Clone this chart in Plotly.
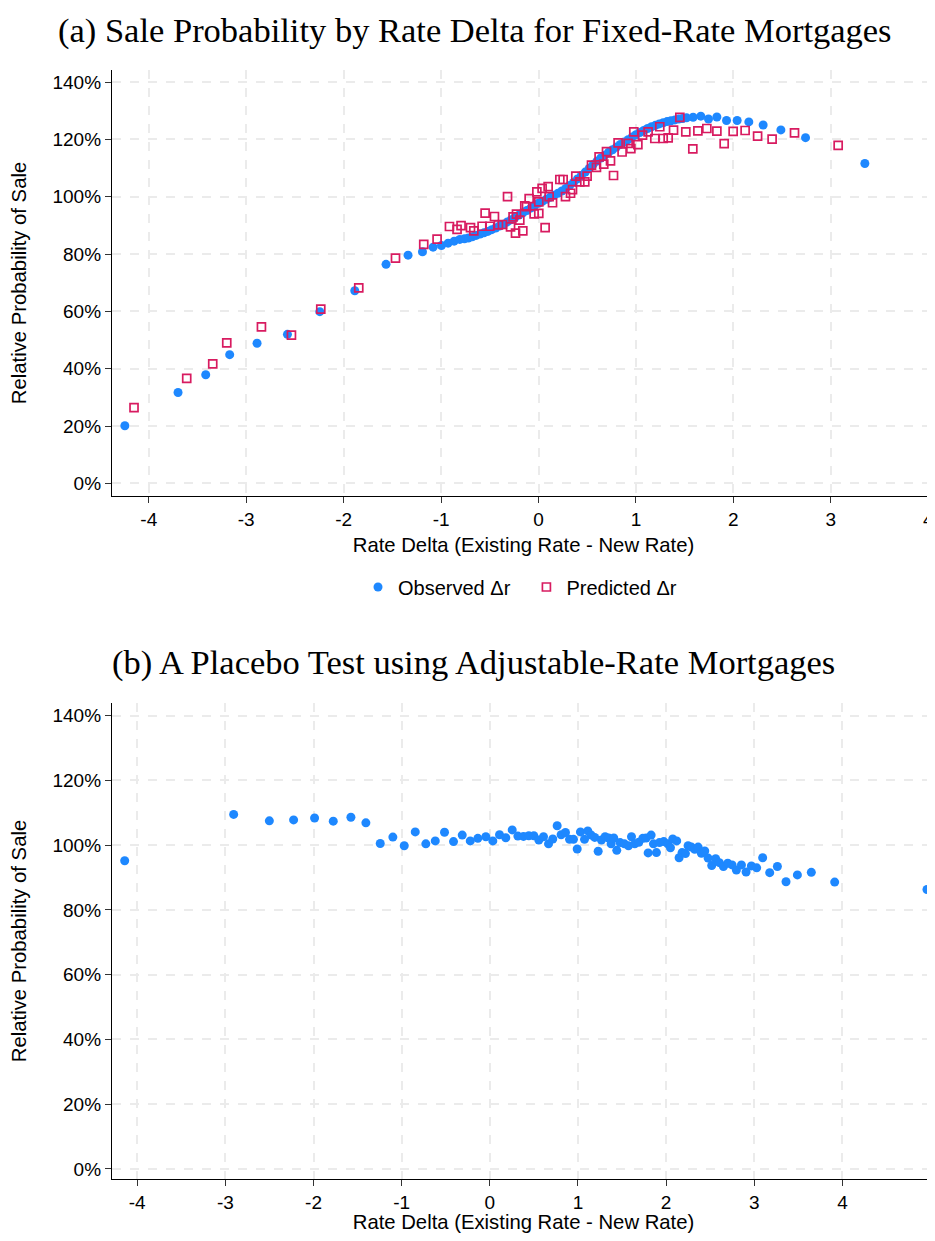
import plotly.graph_objects as go

# ---------------- Panel (a): fixed-rate mortgages ----------------
obs_x = [-4.246, -3.70, -3.416, -3.17, -2.889, -2.577, -2.245, -1.886, -1.565, -1.339,
         -1.191, -1.082, -0.996, -0.928, -0.866, -0.808,
         -0.76, -0.72, -0.68, -0.64, -0.60, -0.56, -0.52, -0.48, -0.44, -0.40,
         -0.36, -0.32, -0.28, -0.24, -0.20, -0.16, -0.12, -0.08, -0.04, 0.00,
         0.04, 0.08, 0.12, 0.16, 0.20, 0.24, 0.28, 0.32, 0.36, 0.40,
         0.44, 0.48, 0.52, 0.56, 0.60, 0.64, 0.68, 0.72, 0.76, 0.80,
         0.84, 0.88, 0.92, 0.96, 1.00, 1.04, 1.08, 1.12, 1.16, 1.20,
         1.24, 1.28, 1.32, 1.36, 1.40, 1.44, 1.48, 1.52,
         1.587, 1.666, 1.745, 1.831, 1.930, 2.039, 2.159, 2.306, 2.488, 2.741, 3.350]
obs_y = [20.1, 31.7, 37.9, 44.9, 48.9, 52.0, 59.9, 67.2, 76.4, 79.6,
         80.8, 82.4, 83.0, 83.8, 84.5, 85.1,
         85.3, 85.6, 86.0, 86.5, 87.0, 87.4, 87.9, 88.5, 89.1, 89.8,
         90.4, 91.2, 92.0, 92.8, 93.6, 94.4, 95.2, 96.0, 96.9, 97.7,
         98.4, 99.1, 99.8, 100.5, 101.2, 102.0, 102.9, 103.9, 105.0, 106.2,
         107.4, 108.6, 109.9, 111.2, 112.4, 113.5, 114.5, 115.5, 116.4, 117.3,
         118.2, 119.1, 119.9, 120.8, 121.6, 122.4, 123.1, 123.8, 124.4, 124.9,
         125.4, 125.8, 126.2, 126.5, 126.8, 127.1, 127.3, 127.5,
         127.7, 128.1, 127.1, 127.8, 126.6, 126.6, 126.1, 125.0, 123.3, 120.6, 111.6]

pred_x = [-4.152, -3.611, -3.344, -3.200, -2.844, -2.536, -2.235, -1.845, -1.468, -1.178,
          -1.041, -0.914, -0.836, -0.795, -0.698, -0.664, -0.579, -0.548, -0.500, -0.452,
          -0.411, -0.370, -0.318, -0.287, -0.261, -0.236, -0.226, -0.192, -0.161, -0.141,
          -0.123, -0.096, -0.045, -0.017, 0.003, 0.003, 0.037, 0.068, 0.099, 0.109,
          0.144, 0.219, 0.253, 0.277, 0.329, 0.349, 0.383, 0.424, 0.475, 0.499,
          0.544, 0.595, 0.622, 0.670, 0.698, 0.739, 0.770, 0.817, 0.858, 0.920,
          0.948, 0.978, 1.020, 1.068, 1.125, 1.194, 1.245, 1.280, 1.331, 1.386,
          1.451, 1.512, 1.584, 1.636, 1.728, 1.831, 1.906, 1.998, 2.121, 2.249,
          2.398, 2.628, 3.076]
pred_y = [26.4, 36.6, 41.7, 49.0, 54.6, 51.7, 60.8, 68.2, 78.6, 83.4,
          85.2, 89.6, 88.6, 89.9, 89.2, 88.1, 89.7, 94.3, 89.7, 93.1,
          90.2, 90.3, 100.0, 89.5, 93.0, 87.3, 93.9, 91.8, 88.1, 96.8,
          96.5, 99.3, 94.0, 101.7, 94.2, 98.2, 102.9, 89.2, 103.5, 100.0,
          97.9, 106.0, 106.0, 100.0, 101.2, 102.5, 107.2, 105.2, 105.2, 107.2,
          111.0, 110.2, 113.9, 111.4, 115.7, 112.5, 107.4, 118.8, 115.6, 118.6,
          116.8, 122.6, 118.2, 121.5, 122.6, 120.3, 124.4, 120.3, 120.5, 123.2,
          127.7, 122.6, 116.7, 123.0, 123.8, 122.9, 118.5, 122.8, 123.1, 121.1,
          120.1, 122.3, 117.9]

# ---------------- Panel (b): adjustable-rate mortgages ----------------
arm_x = [-4.142, -2.906, -2.501, -2.226, -1.988, -1.776, -1.576, -1.406, -1.243, -1.100,
         -0.971, -0.846, -0.726, -0.619, -0.514, -0.412, -0.313, -0.222, -0.136, -0.045,
         0.034, 0.110, 0.181, 0.254, 0.318, 0.382, 0.442, 0.499, 0.556, 0.609,
         0.666, 0.714, 0.764, 0.809, 0.858, 0.904, 0.949, 0.991, 1.028, 1.074,
         1.111, 1.150, 1.190, 1.229, 1.266, 1.308, 1.349, 1.376, 1.406, 1.440,
         1.478, 1.527, 1.573, 1.607, 1.644, 1.690, 1.735, 1.773, 1.796, 1.830,
         1.856, 1.890, 1.924, 1.973, 2.018, 2.049, 2.075, 2.120, 2.147, 2.181,
         2.219, 2.249, 2.287, 2.324, 2.363, 2.400, 2.438, 2.476, 2.517, 2.562,
         2.604, 2.650, 2.699, 2.748, 2.797, 2.854, 2.907, 2.967, 3.027, 3.095,
         3.175, 3.262, 3.360, 3.489, 3.647, 3.912, 4.959]
arm_y = [95.2, 109.5, 107.5, 107.8, 108.4, 107.4, 108.6, 106.9, 100.5, 102.5,
         99.8, 104.1, 100.4, 101.3, 104.0, 101.1, 103.1, 101.3, 102.1, 102.6,
         101.3, 103.2, 102.3, 104.7, 102.8, 102.7, 102.9, 102.9, 101.6, 102.6,
         100.4, 101.9, 106.0, 103.2, 103.9, 101.8, 101.8, 98.8, 104.1, 101.8,
         104.4, 103.1, 102.4, 98.1, 101.6, 102.6, 102.2, 100.4, 102.2, 98.4,
         100.8, 100.4, 99.8, 102.6, 100.4, 100.9, 102.1, 102.2, 97.6, 103.1,
         100.4, 97.7, 100.8, 101.1, 100.4, 99.2, 101.9, 101.3, 96.1, 97.7,
         97.4, 99.8, 99.4, 98.7, 99.4, 97.5, 98.2, 96.0, 93.7, 95.8,
         94.6, 93.4, 94.4, 93.9, 92.3, 93.9, 91.7, 93.6, 93.0, 96.1,
         91.5, 93.4, 88.7, 90.8, 91.6, 88.6, 86.3]

y_ticks = [0, 20, 40, 60, 80, 100, 120, 140]
y_labels = ["0%", "20%", "40%", "60%", "80%", "100%", "120%", "140%"]
x_ticks = [-4, -3, -2, -1, 0, 1, 2, 3, 4]
x_labels = ["-4", "-3", "-2", "-1", "0", "1", "2", "3", "4"]

title_a = "(a) Sale Probability by Rate Delta for Fixed-Rate Mortgages"
title_b = "(b) A Placebo Test using Adjustable-Rate Mortgages"
x_title = "Rate Delta (Existing Rate - New Rate)"
y_title = "Relative Probability of Sale"
legend_obs = "Observed Δr"
legend_pred = "Predicted Δr"

BLUE = "#1e88ff"
RED = "#d81b60"
GRID = "#ebebeb"
SANS = "Liberation Sans, Arial, sans-serif"
SERIF = "Liberation Serif, Times New Roman, serif"
NBSP = "\u00a0"

fig = go.Figure()
fig.add_trace(go.Scatter(x=obs_x, y=obs_y, mode="markers", name=legend_obs + NBSP * 2,
                         marker=dict(symbol="circle", size=9, color=BLUE, line=dict(width=0)),
                         xaxis="x", yaxis="y", cliponaxis=False))
fig.add_trace(go.Scatter(x=pred_x, y=pred_y, mode="markers", name=legend_pred,
                         marker=dict(symbol="square-open", size=8, color=RED, line=dict(width=1.7, color=RED)),
                         xaxis="x", yaxis="y"))
fig.add_trace(go.Scatter(x=arm_x, y=arm_y, mode="markers", name="ARM",
                         marker=dict(symbol="circle", size=9, color=BLUE, line=dict(width=0)),
                         xaxis="x2", yaxis="y2", showlegend=False, cliponaxis=False))

axis_common = dict(showgrid=True, gridcolor=GRID, gridwidth=1.5, griddash="dash",
                   showline=True, linecolor="black", linewidth=1.3,
                   ticks="outside", ticklen=6, tickcolor="#333333", tickwidth=1,
                   zeroline=False, automargin=False,
                   tickfont=dict(family=SANS, size=19, color="black"))
title_font = dict(family=SANS, size=20.3, color="black")

# The page body adds an 8px margin on each side; the figure is sized so the page
# does not overflow the 935x1241 window (no scrollbars).
W, H = 927, 1225
L, T, B = 104, 62, 54
PW = W - L          # plot-area width in px
PH = H - T - B      # plot-area height in px
BOT = T + PH + 8    # screen y of the paper bottom


def px(xs):
    return (xs - 112) / PW


def py(ys):
    return (BOT - ys) / PH


fig.update_layout(
    width=W, height=H,
    margin=dict(l=L, r=0, t=T, b=B),
    paper_bgcolor="white", plot_bgcolor="white",
    showlegend=True,
    legend=dict(orientation="h", x=px(358), xanchor="left", y=py(587), yanchor="middle",
                font=dict(family=SANS, size=20, color="black"),
                tracegroupgap=0, bgcolor="rgba(0,0,0,0)"),
    xaxis=dict(domain=[0, 1], anchor="y", range=[-4.378, 4.07], tickvals=x_ticks, ticktext=x_labels,
               title=dict(text=x_title, font=title_font, standoff=8), **axis_common),
    yaxis=dict(domain=[py(496), 1], anchor="x", range=[-4.4, 144.2], tickvals=y_ticks, ticktext=y_labels,
               title=dict(text=y_title, font=title_font, standoff=25), **axis_common),
    xaxis2=dict(domain=[0, 1], anchor="y2", range=[-4.286, 5.05], tickvals=x_ticks, ticktext=x_labels,
                title=dict(text=x_title, font=title_font, standoff=8), **axis_common),
    yaxis2=dict(domain=[0, py(703)], anchor="x2", range=[-3.1, 143.9], tickvals=y_ticks, ticktext=y_labels,
                title=dict(text=y_title, font=title_font, standoff=25), **axis_common),
    annotations=[
        dict(text=title_a, xref="paper", yref="paper", x=px(475), y=py(30),
             xanchor="center", yanchor="middle", showarrow=False,
             font=dict(family=SERIF, size=34.5, color="black")),
        dict(text=title_b, xref="paper", yref="paper", x=px(473), y=py(662),
             xanchor="center", yanchor="middle", showarrow=False,
             font=dict(family=SERIF, size=34.5, color="black")),
    ],
)

fig.write_html("out.html")
